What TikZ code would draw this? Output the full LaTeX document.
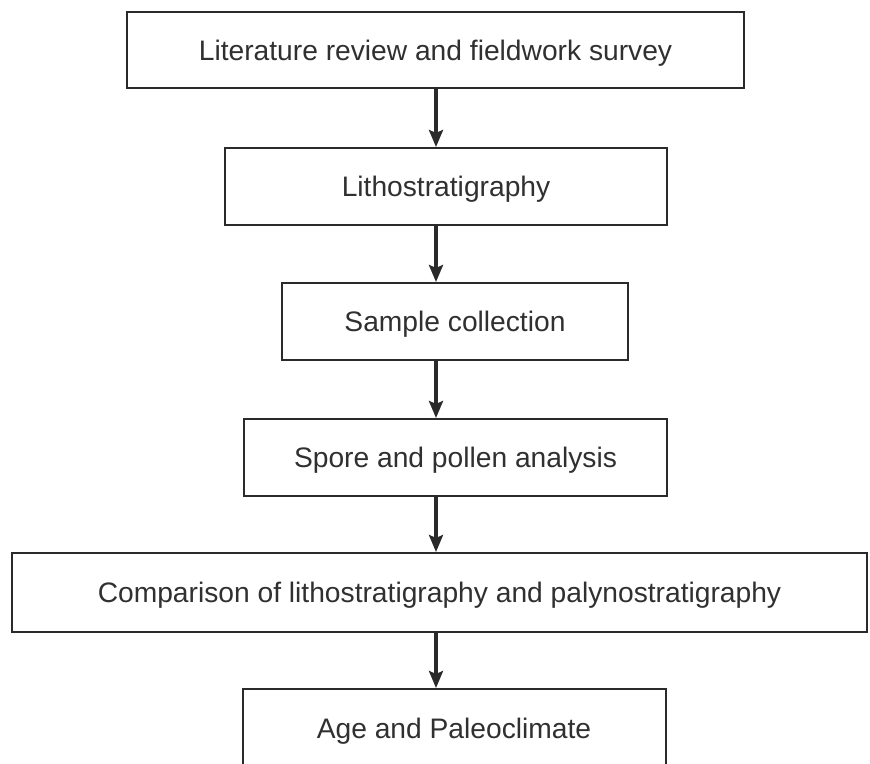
\documentclass[tikz,border=0pt]{standalone}
\usepackage{fontspec}
\setmainfont{Liberation Sans}
\usetikzlibrary{arrows.meta}
\definecolor{ink}{HTML}{2A2A2A}
\definecolor{txt}{HTML}{303030}
\tikzset{
  stepbox/.style={draw=ink, line width=2pt, fill=none, inner sep=0pt,
    text=txt, font=\fontsize{28.2}{34}\selectfont,
    text height=26pt, text depth=6pt, minimum height=77pt},
  flowarrow/.style={draw=ink, line width=3.4pt,
    -{Stealth[length=17pt,width=14pt,inset=3pt]}, shorten >=0pt}
}
\begin{document}
\begin{tikzpicture}[x=1pt,y=-1pt]
\useasboundingbox (0,0) rectangle (870,763);
\fill[white] (0,0) rectangle (870,763);
\coordinate (ax) at (436,0);
\node[stepbox, minimum width=617pt, minimum height=76pt] (b1) at (435.5,50) {Literature review and fieldwork survey};
\node[stepbox, minimum width=442pt] (b2) at (446,186.5) {Lithostratigraphy};
\node[stepbox, minimum width=346pt] (b3) at (455,321.5) {Sample collection};
\node[stepbox, minimum width=423pt] (b4) at (455.5,457.5) {Spore and pollen analysis};
\node[stepbox, minimum width=855pt, minimum height=79pt] (b5) at (439.5,592.5) {Comparison of lithostratigraphy and palynostratigraphy};
\node[stepbox, minimum width=423pt, minimum height=78pt] (b6) at (454,728) {Age and Paleoclimate};
\draw[flowarrow] (b1.south -| ax) -- (b2.north -| ax);
\draw[flowarrow] (b2.south -| ax) -- (b3.north -| ax);
\draw[flowarrow] (b3.south -| ax) -- (b4.north -| ax);
\draw[flowarrow] (b4.south -| ax) -- (b5.north -| ax);
\draw[flowarrow] (b5.south -| ax) -- (b6.north -| ax);
\end{tikzpicture}
\end{document}
